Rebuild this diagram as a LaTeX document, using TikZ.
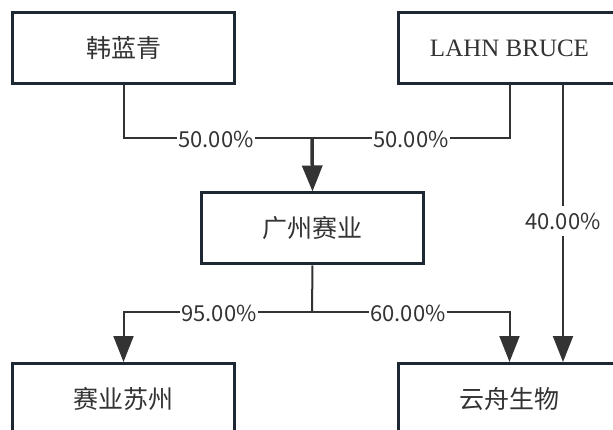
\documentclass[tikz,border=0pt]{standalone}
\usepackage{fontspec}
\setmainfont{Liberation Serif}
\newfontfamily\cjk{Noto Sans CJK SC}
\usetikzlibrary{arrows.meta}
\definecolor{boxline}{HTML}{1E2832}
\definecolor{conncol}{HTML}{333333}
\definecolor{txt}{HTML}{333333}
\tikzset{
  entity/.style={draw=boxline, line width=3pt, fill=white, minimum width=222pt, minimum height=71pt, inner sep=0pt, text=txt},
  conn/.style={draw=conncol, line width=2pt},
  arr/.style={conn, -{Triangle[length=26pt, width=20pt]}},
  lbl/.style={fill=white, inner xsep=1.5pt, inner ysep=1pt, text=txt, font=\cjk\fontsize{22}{24}\selectfont}
}
\begin{document}
\begin{tikzpicture}[x=1pt,y=-1pt]
\useasboundingbox (0,0) rectangle (613,430);
\node[entity, font=\cjk\fontsize{25}{28}\selectfont] (hlq) at (123.5,48) {韩蓝青};
\node[entity, font=\fontsize{25}{28}\selectfont] (lb) at (509.5,48) {LAHN BRUCE};
\node[entity, font=\cjk\fontsize{25}{28}\selectfont] (gz) at (312.5,228.5) {广州赛业};
\node[entity, font=\cjk\fontsize{25}{28}\selectfont] (sz) at (123.5,399) {赛业苏州};
\node[entity, font=\cjk\fontsize{25}{28}\selectfont] (yz) at (509.5,399) {云舟生物};
\coordinate (m1) at (312,138);
\coordinate (m2) at (312,312);
\draw[conn] (hlq.south) |- (m1);
\draw[conn] (lb.south) |- (m1);
\draw[arr, line width=3.5pt] (m1) -- (gz.north);
\draw[conn] (gz.south) -- (m2);
\draw[arr] (m2) -| (sz.north);
\draw[arr] (m2) -| (yz.north);
\draw[arr] ([xshift=53.5pt]lb.south) -- ([xshift=53.5pt]yz.north);
\node[lbl] (l1) at (216,139) {50.00\%};
\node[lbl] (l2) at (411,139) {50.00\%};
\node[lbl, inner ysep=7pt, inner xsep=0pt] (l3) at (563,221) {40.00\%};
\node[lbl] (l4) at (219,313) {95.00\%};
\node[lbl] (l5) at (408,313) {60.00\%};
\end{tikzpicture}
\end{document}
